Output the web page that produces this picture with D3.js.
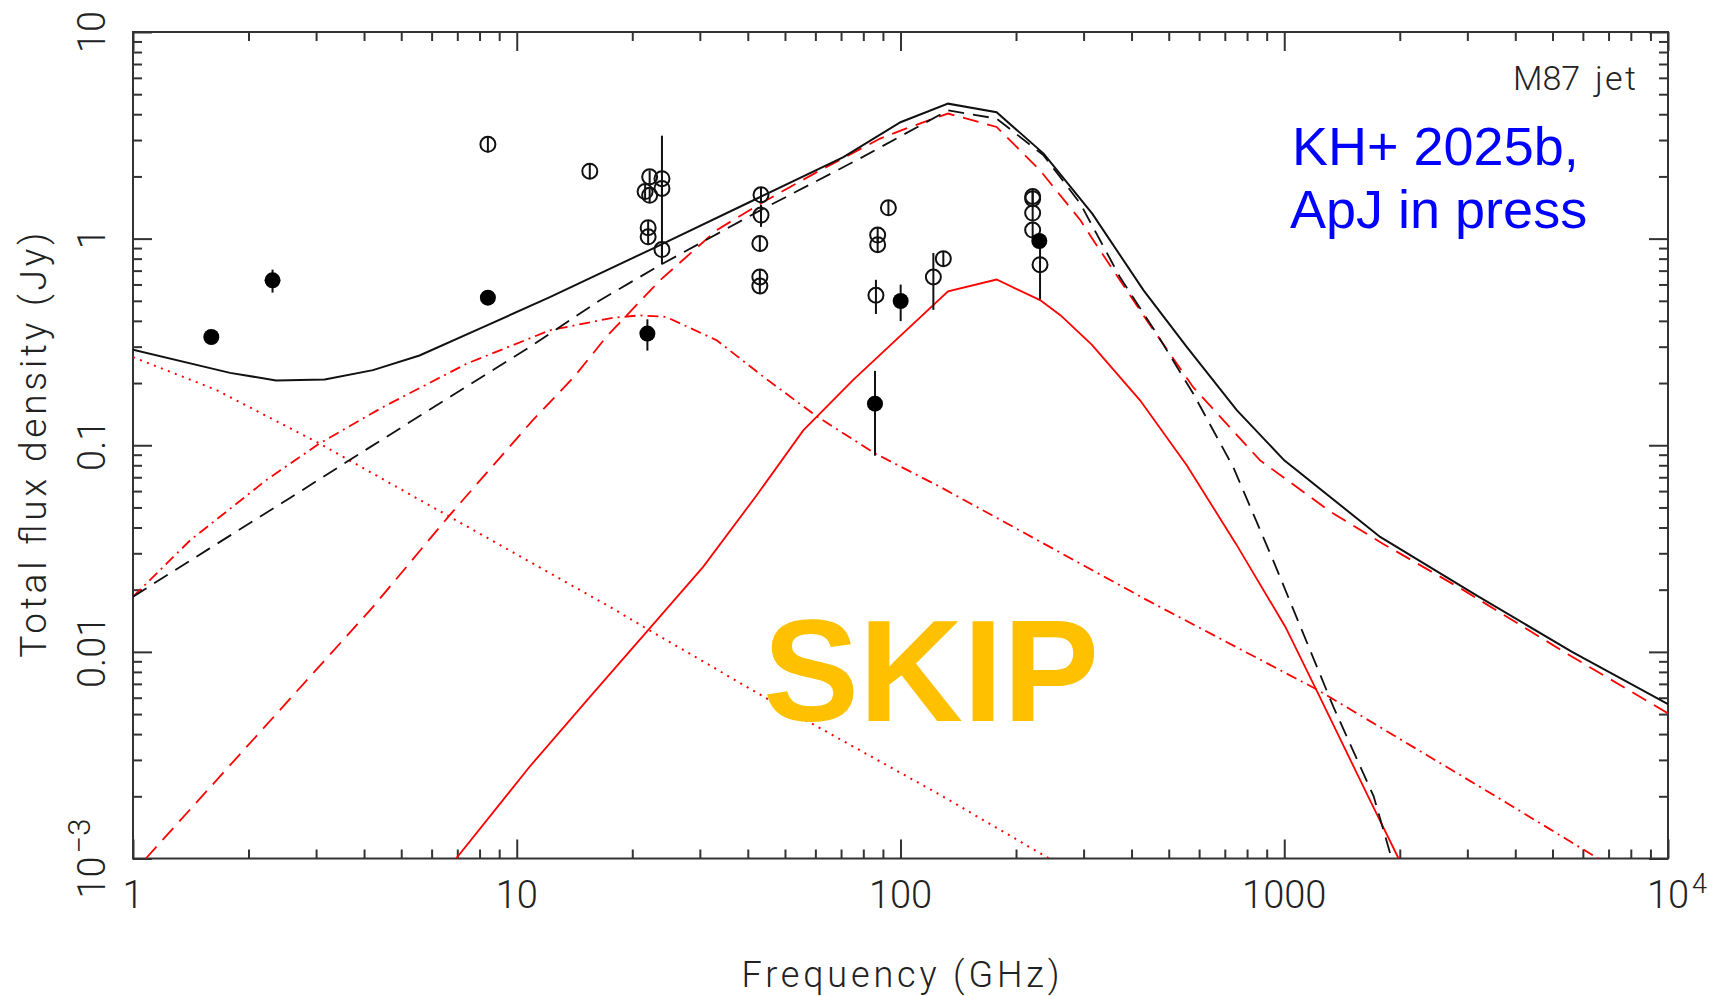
<!DOCTYPE html>
<html>
<head>
<meta charset="utf-8">
<script src="https://cdn.jsdelivr.net/npm/d3@7"></script>
<style>
  html, body { margin: 0; padding: 0; background: #fff; }
  #chart { width: 1719px; height: 996px; }
  .lbl { font-family: Roboto, "DejaVu Sans", sans-serif; font-weight: 300; fill: #222; }
</style>
</head>
<body>
<div id="chart"></div>
<script>

//////////// DATA (frequency in GHz, flux density in Jy)

// total model (black solid)
const totalFreq = [1, 1.79, 2.36, 3.16, 4.22, 5.58, 8.17, 12.2, 22.6, 43.1, 71.0, 100, 133, 178, 236, 316, 430, 557, 752, 1000, 1778, 3162, 5623, 10000];
const totalFlux = [0.290, 0.224, 0.206, 0.208, 0.231, 0.272, 0.373, 0.521, 0.895, 1.59, 2.48, 3.66, 4.50, 4.09, 2.58, 1.32, 0.562, 0.299, 0.148, 0.0845, 0.036, 0.0188, 0.0100, 0.00558];

// black dashed component
const blackDashFreq = [1, 1.58, 2.51, 4.06, 6.82, 11.0, 16.4, 23.6, 43.1, 78.3, 133, 178, 236, 294, 373, 465, 579, 736, 935, 1343, 1710, 1905];
const blackDashFlux = [0.0185, 0.0316, 0.0542, 0.0955, 0.175, 0.305, 0.501, 0.743, 1.37, 2.44, 4.18, 3.81, 2.53, 1.48, 0.652, 0.347, 0.178, 0.0785, 0.0278, 0.00542, 0.00200, 0.00100];

// red dashed component
const redDashFreq = [1.08, 4.22, 6.68, 11.0, 14.1, 17.1, 23.6, 33.2, 43.2, 61.7, 88.5, 106, 133, 178, 231, 294, 318, 438, 579, 865, 1315, 1807, 2931, 5445, 10000];
const redDashFlux = [0.00100, 0.0165, 0.0458, 0.132, 0.214, 0.334, 0.628, 1.10, 1.48, 2.14, 3.05, 3.47, 4.03, 3.47, 2.14, 1.23, 0.982, 0.403, 0.191, 0.0845, 0.0479, 0.0334, 0.0199, 0.00982, 0.00504];

// red dash-dot component
const redDashDotFreq = [1, 1.41, 2.22, 3.06, 4.48, 7.40, 12.2, 17.8, 20.9, 24.5, 33.2, 44.0, 60.5, 85.9, 127, 439, 1225, 3690, 6577];
const redDashDotFlux = [0.0185, 0.0347, 0.0676, 0.102, 0.153, 0.248, 0.360, 0.414, 0.425, 0.418, 0.322, 0.214, 0.138, 0.0912, 0.0628, 0.0178, 0.00653, 0.00192, 0.00100];

// red dotted component
const redDotFreq = [1, 1.65, 3.06, 6.70, 17.5, 22.2, 45.7, 127, 244];
const redDotFlux = [0.267, 0.185, 0.102, 0.0450, 0.0165, 0.0127, 0.00583, 0.00203, 0.00100];

// red solid component
const redSolidFreq = [6.95, 10.8, 15.8, 22.2, 30.6, 42.2, 55.8, 75.3, 133, 178, 231, 261, 315, 421, 557, 748, 1007, 1225, 1671, 1986];
const redSolidFlux = [0.00100, 0.00278, 0.00630, 0.0130, 0.0258, 0.0573, 0.118, 0.207, 0.556, 0.634, 0.504, 0.426, 0.307, 0.165, 0.0800, 0.0334, 0.0132, 0.00630, 0.00192, 0.00100];

// open symbols
const openFreq = [8.41, 15.5, 22.2, 23.9, 21.6, 22.2, 23.9, 22.0, 22.0, 23.9, 43.3, 43.3, 43.0, 43.0, 43.0, 93.0, 87.2, 87.2, 86.3, 121.8, 129.3, 221, 221, 221, 221, 231];
const openFlux = [2.86, 2.12, 1.99, 1.95, 1.69, 1.62, 1.75, 1.13, 1.02, 0.885, 1.63, 1.30, 0.946, 0.652, 0.590, 1.41, 1.04, 0.935, 0.532, 0.652, 0.800, 1.60, 1.56, 1.33, 1.10, 0.748];
const openErr  = [0.25, 0.18, 0.15, 1.2, 0.14, 0.13, 0.15, 0.10, 0.09, 0.08, 0.14, 0.16, 0.08, 0.06, 0.05, 0.12, 0.09, 0.08, 0.10, 0.20, 0.07, 0.14, 0.14, 0.12, 0.10, 0.24];

// filled symbols
const filledFreq = [1.60, 2.31, 8.41, 21.9, 85.8, 100.1, 230];
const filledFlux = [0.334, 0.628, 0.518, 0.347, 0.159, 0.499, 0.974];
const filledErr  = [0.02, 0.08, 0.03, 0.06, 0.07, 0.10, 0.05];

// ticks
const xMajor = [1, 10, 100, 1000, 10000];
const xLabels = [["1", ""], ["10", ""], ["100", ""], ["1000", ""], ["10", "4"]];
const yMajor = [0.001, 0.01, 0.1, 1, 10];
const yLabels = [["10", "\u22123"], ["0.01", ""], ["0.1", ""], ["1", ""], ["10", ""]];

//////////// CANVAS

const width = 1719;
const height = 996;
const margin = {top: 32, left: 133, right: 51, bottom: 137.5};

const svg = d3.select("#chart")
    .append("svg")
    .attr("width", width)
    .attr("height", height);

//////////// SCALES

const xScale = d3.scaleLog()
    .domain([1, 1e4])
    .range([margin.left, width - margin.right]);

const yScale = d3.scaleLog()
    .domain([1e-3, 10])
    .range([height - margin.bottom, margin.top]);

const x0 = margin.left, x1 = width - margin.right;
const y0 = height - margin.bottom, y1 = margin.top;

// minor tick values
const xMinor = [];
[1, 10, 100, 1000].forEach(function(d) { for (let m = 2; m <= 9; m++) xMinor.push(d * m); });
const yMinor = [];
[0.001, 0.01, 0.1, 1].forEach(function(d) { for (let m = 2; m <= 9; m++) yMinor.push(d * m); });

//////////// AXES (ticks inside the frame)

function tickAxis(axis, vals, size, tr) {
    svg.append("g")
        .attr("transform", tr)
        .attr("color", "#333")
        .call(axis.tickValues(vals).tickSizeInner(-size).tickSizeOuter(0).tickFormat(""))
        .call(function(g) { g.select(".domain").remove(); })
        .selectAll("line").attr("stroke-width", 2);
}

tickAxis(d3.axisBottom(xScale), xMajor, 19, `translate(0,${y0})`);
tickAxis(d3.axisBottom(xScale), xMinor, 9, `translate(0,${y0})`);
tickAxis(d3.axisTop(xScale), xMajor, 19, `translate(0,${y1})`);
tickAxis(d3.axisTop(xScale), xMinor, 9, `translate(0,${y1})`);
tickAxis(d3.axisLeft(yScale), yMajor, 19, `translate(${x0},0)`);
tickAxis(d3.axisLeft(yScale), yMinor, 9, `translate(${x0},0)`);
tickAxis(d3.axisRight(yScale), yMajor, 19, `translate(${x1},0)`);
tickAxis(d3.axisRight(yScale), yMinor, 9, `translate(${x1},0)`);

svg.append("rect")
    .attr("x", x0)
    .attr("y", y1)
    .attr("width", x1 - x0)
    .attr("height", y0 - y1)
    .attr("fill", "none")
    .attr("stroke", "#333")
    .attr("stroke-width", 2);

// x tick labels
xMajor.forEach(function(v, i) {
    const t = svg.append("text")
        .attr("class", "lbl")
        .attr("x", xScale(v))
        .attr("y", 908)
        .attr("text-anchor", "middle")
        .attr("font-size", 38)
        .text(xLabels[i][0]);
    if (xLabels[i][1]) {
        const w = t.node().getComputedTextLength();
        svg.append("text")
            .attr("class", "lbl")
            .attr("x", xScale(v) + w / 2 + 3)
            .attr("y", 893)
            .attr("font-size", 27)
            .text(xLabels[i][1]);
    }
});

// y tick labels (rotated)
yMajor.forEach(function(v, i) {
    const t = svg.append("text")
        .attr("class", "lbl")
        .attr("transform", `translate(105,${yScale(v)}) rotate(-90)`)
        .attr("text-anchor", "middle")
        .attr("font-size", 38);
    t.append("tspan").text(yLabels[i][0]);
    if (yLabels[i][1]) {
        t.append("tspan").attr("dx", 3).attr("dy", -15).attr("font-size", 31).text(yLabels[i][1]);
    }
});

// axis titles
svg.append("text")
    .attr("class", "lbl")
    .attr("x", (x0 + x1) / 2)
    .attr("y", 987)
    .attr("text-anchor", "middle")
    .attr("font-size", 36)
    .attr("textLength", 318)
    .attr("lengthAdjust", "spacing")
    .text("Frequency (GHz)");

svg.append("text")
    .attr("class", "lbl")
    .attr("transform", `translate(46,${(y0 + y1) / 2}) rotate(-90)`)
    .attr("text-anchor", "middle")
    .attr("font-size", 37)
    .attr("textLength", 425)
    .attr("lengthAdjust", "spacing")
    .text("Total flux density (Jy)");

//////////// MODEL CURVES

svg.append("clipPath")
    .attr("id", "plotClip")
    .append("rect")
    .attr("x", x0).attr("y", y1)
    .attr("width", x1 - x0).attr("height", y0 - y1);

const line = d3.line()
    .x(function(d) { return xScale(d[0]); })
    .y(function(d) { return yScale(d[1]); });

const curves = [
    {f: redDotFreq, s: redDotFlux, color: "#ff0000", dash: "2,5.5", w: 2},
    {f: redDashDotFreq, s: redDashDotFlux, color: "#ff0000", dash: "11,5,2,5", w: 1.8},
    {f: redSolidFreq, s: redSolidFlux, color: "#ff0000", dash: null, w: 1.8},
    {f: redDashFreq, s: redDashFlux, color: "#ff0000", dash: "16,9", w: 1.8},
    {f: blackDashFreq, s: blackDashFlux, color: "#111", dash: "16,9", w: 1.8},
    {f: totalFreq, s: totalFlux, color: "#111", dash: null, w: 2}
];

const curveG = svg.append("g").attr("clip-path", "url(#plotClip)");

curveG.selectAll("path")
    .data(curves)
    .enter()
    .append("path")
        .attr("d", function(c) { return line(c.f.map(function(f, i) { return [f, c.s[i]]; })); })
        .attr("fill", "none")
        .attr("stroke", function(c) { return c.color; })
        .attr("stroke-width", function(c) { return c.w; })
        .attr("stroke-dasharray", function(c) { return c.dash; });

//////////// DATA POINTS

const openPts = openFreq.map(function(f, i) { return {f: f, s: openFlux[i], e: openErr[i]}; });
const filledPts = filledFreq.map(function(f, i) { return {f: f, s: filledFlux[i], e: filledErr[i]}; });

const ptG = svg.append("g");

ptG.selectAll(".errbar")
    .data(openPts.concat(filledPts))
    .enter()
    .append("line")
        .attr("class", "errbar")
        .attr("x1", function(d) { return xScale(d.f); })
        .attr("x2", function(d) { return xScale(d.f); })
        .attr("y1", function(d) { return yScale(d.s + d.e); })
        .attr("y2", function(d) { return yScale(Math.max(d.s - d.e, 1e-3)); })
        .attr("stroke", "#111")
        .attr("stroke-width", 2);

ptG.selectAll(".open")
    .data(openPts)
    .enter()
    .append("circle")
        .attr("class", "open")
        .attr("cx", function(d) { return xScale(d.f); })
        .attr("cy", function(d) { return yScale(d.s); })
        .attr("r", 7.5)
        .attr("fill", "none")
        .attr("stroke", "#111")
        .attr("stroke-width", 2);

ptG.selectAll(".filled")
    .data(filledPts)
    .enter()
    .append("circle")
        .attr("class", "filled")
        .attr("cx", function(d) { return xScale(d.f); })
        .attr("cy", function(d) { return yScale(d.s); })
        .attr("r", 8)
        .attr("fill", "#000");

//////////// ANNOTATIONS

const m87 = svg.append("text")
    .attr("class", "lbl")
    .attr("y", 90)
    .attr("font-size", 34);
m87.append("tspan").attr("x", 1513).text("M87");
m87.append("tspan").attr("x", 1595).attr("textLength", 41).text("jet");

const blue = svg.append("text")
    .attr("font-family", "'Liberation Sans', Arial, sans-serif")
    .attr("font-size", 54)
    .attr("fill", "#0000ff");
blue.append("tspan").attr("x", 1292).attr("y", 165).text("KH+ 2025b,");
blue.append("tspan").attr("x", 1290).attr("y", 228).text("ApJ in press");

svg.append("text")
    .attr("x", 763)
    .attr("y", 721)
    .attr("font-family", "'Liberation Sans', Arial, sans-serif")
    .attr("font-weight", "bold")
    .attr("font-size", 144)
    .attr("fill", "#ffc000")
    .text("SKIP");

</script>
</body>
</html>
